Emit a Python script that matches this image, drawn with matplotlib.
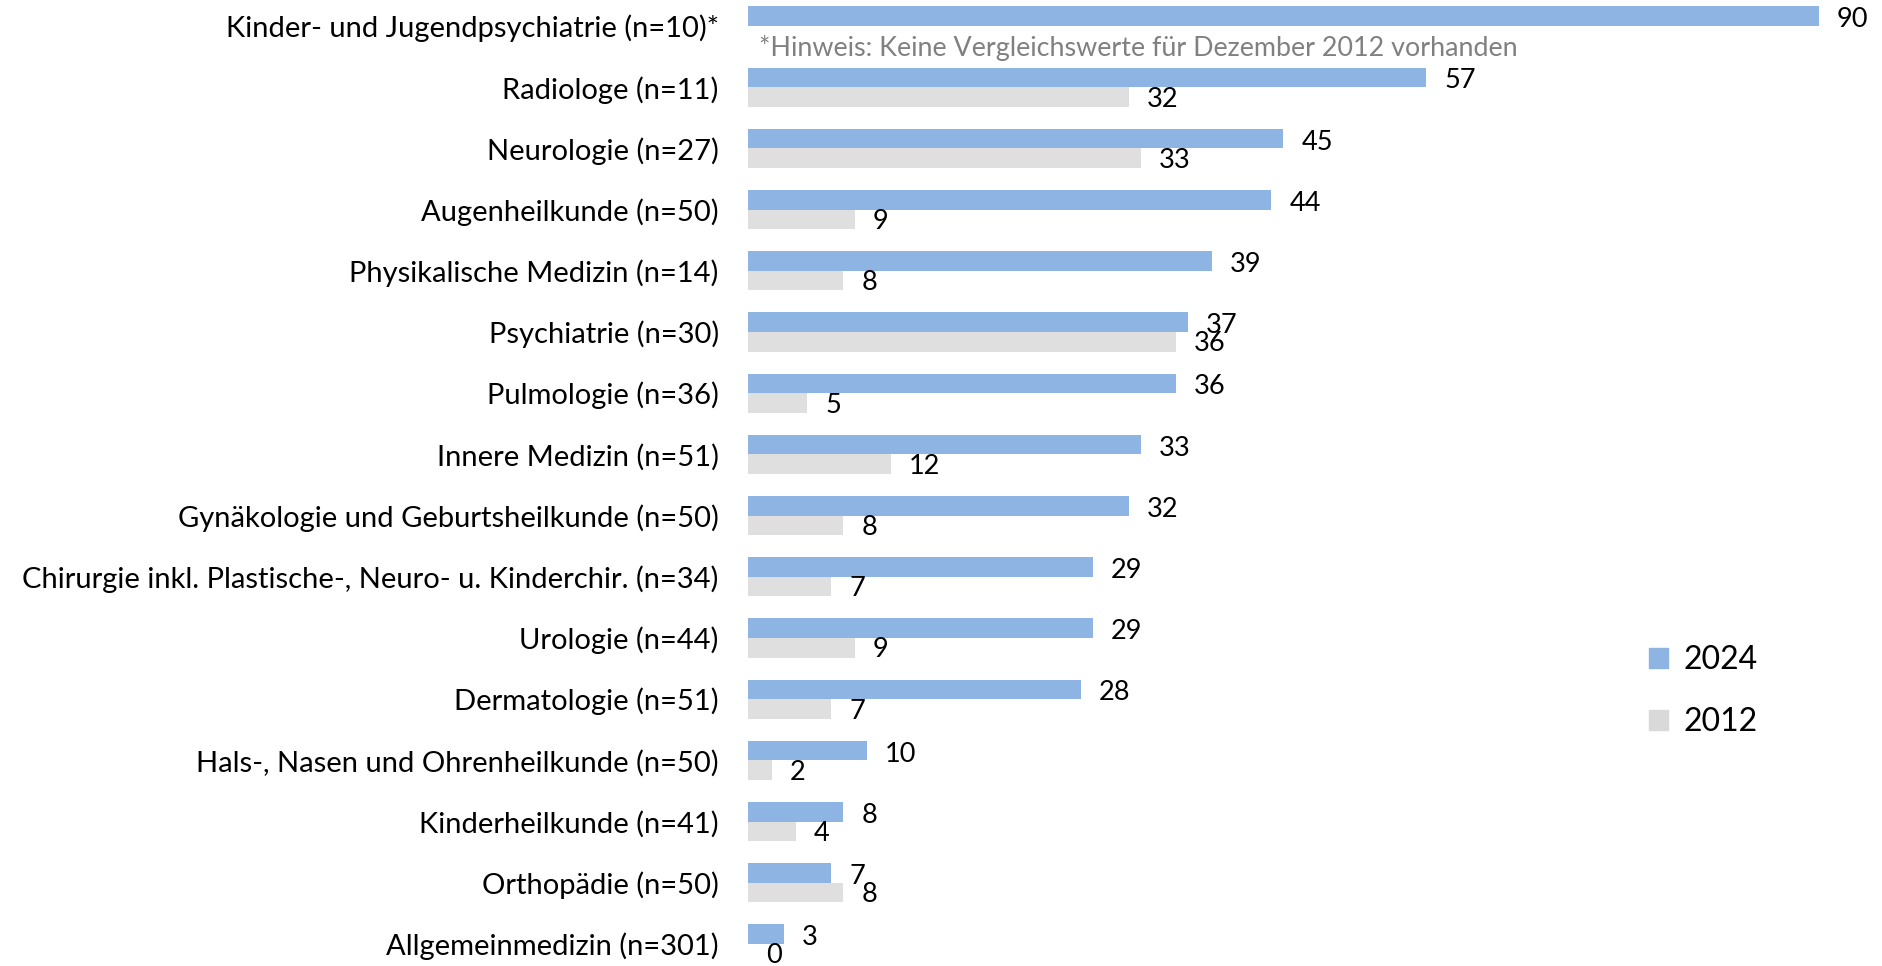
import matplotlib
matplotlib.use("Agg")
import matplotlib.pyplot as plt
import matplotlib.patches as mpatches
import numpy as np

plt.rcParams['font.family'] = ['Lato', 'DejaVu Sans']

# Daten aus der Grafik
categories = [
    'Kinder- und Jugendpsychiatrie (n=10)*',
    'Radiologe (n=11)',
    'Neurologie (n=27)',
    'Augenheilkunde (n=50)',
    'Physikalische Medizin (n=14)',
    'Psychiatrie (n=30)',
    'Pulmologie (n=36)',
    'Innere Medizin (n=51)',
    'Gynäkologie und Geburtsheilkunde (n=50)',
    'Chirurgie inkl. Plastische-, Neuro- u. Kinderchir. (n=34)',
    'Urologie (n=44)',
    'Dermatologie (n=51)',
    'Hals-, Nasen und Ohrenheilkunde (n=50)',
    'Kinderheilkunde (n=41)',
    'Orthopädie (n=50)',
    'Allgemeinmedizin (n=301)',
]
values_2024 = [90, 57, 45, 44, 39, 37, 36, 33, 32, 29, 29, 28, 10, 8, 7, 3]
values_2012 = [np.nan, 32, 33, 9, 8, 36, 5, 12, 8, 7, 9, 7, 2, 4, 8, 0]
note = '*Hinweis: Keine Vergleichswerte für Dezember 2012 vorhanden'

BLUE = '#8DB4E3'
GREY = '#DFDFDF'

W, H = 1883, 966
fig = plt.figure(figsize=(W / 100, H / 100), dpi=100)
ax = fig.add_axes([748 / W, 0, 1130 / W, 1])

y = np.arange(len(categories))
bh = 0.32
ax.barh(y - bh / 2, values_2024, height=bh, color=BLUE)
ax.barh(y + bh / 2, values_2012, height=bh, color=GREY)

for i, (a, b) in enumerate(zip(values_2024, values_2012)):
    ax.annotate(str(a), (a, i - bh / 2), xytext=(13, -2.5), textcoords='offset points',
                va='center', ha='left', fontsize=19.5)
    if not np.isnan(b):
        ax.annotate(str(int(b)), (b, i + bh / 2), xytext=(13, -1.5), textcoords='offset points',
                    va='center', ha='left', fontsize=19.5)

ax.text(0.9, 0.36, note, color='#808080', fontsize=19.4, va='center', ha='left')

ax.set_xlim(0, 95)
ax.set_ylim(15.36, -0.425)
ax.set_yticks(y)
ax.set_yticklabels(categories, fontsize=21)
ax.tick_params(axis='y', length=0, pad=21)
ax.set_xticks([])
for s in ax.spines.values():
    s.set_visible(False)

handles = [mpatches.Patch(color=BLUE, label='2024'), mpatches.Patch(color='#D9D9D9', label='2012')]
fig.legend(handles=handles, loc='center left', bbox_to_anchor=(1620 / W, 1 - 691 / H),
           frameon=False, fontsize=23, handlelength=0.6, handleheight=0.6,
           handletextpad=0.5, labelspacing=1.0)

fig.savefig('out.png', dpi=100)
